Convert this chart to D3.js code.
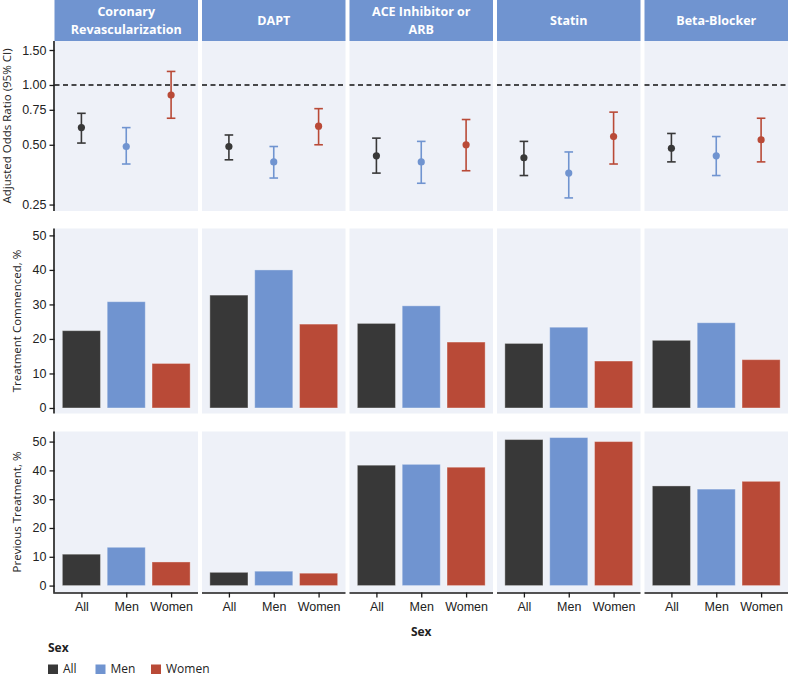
<!DOCTYPE html>
<html>
<head>
<meta charset="utf-8">
<script src="https://cdn.jsdelivr.net/npm/d3@7"></script>
<style>
  body { margin: 0; background: #fff; }
  svg { display: block; font-family: "Open Sans", "Noto Sans", sans-serif; }
</style>
</head>
<body>
<svg id="chart" width="792" height="676"></svg>
<script>
// ---------- data ----------
const treatments = ["Coronary\nRevascularization", "DAPT", "ACE Inhibitor or\nARB", "Statin", "Beta-Blocker"];
const sexes = ["All", "Men", "Women"];
const sexColors = ["#383838", "#7094D0", "#B94A37"];

// adjusted odds ratio (point, lower, upper) per treatment, order All/Men/Women
const orPoint = [[0.61, 0.49, 0.89], [0.49, 0.41, 0.62], [0.44, 0.41, 0.50], [0.43, 0.36, 0.55], [0.48, 0.44, 0.53]];
const orLower = [[0.51, 0.40, 0.68], [0.42, 0.34, 0.50], [0.36, 0.32, 0.37], [0.35, 0.27, 0.40], [0.41, 0.35, 0.41]];
const orUpper = [[0.72, 0.61, 1.17], [0.56, 0.49, 0.76], [0.54, 0.52, 0.67], [0.52, 0.46, 0.73], [0.57, 0.55, 0.68]];

const commenced = [[22.4, 30.8, 12.9], [32.7, 40.0, 24.3], [24.5, 29.6, 19.1], [18.7, 23.4, 13.6], [19.6, 24.7, 14.0]];
const previous  = [[10.9, 13.3, 8.2], [4.6, 5.0, 4.3], [41.8, 42.1, 41.1], [50.7, 51.4, 50.0], [34.6, 33.5, 36.2]];

const orTicks = [0.25, 0.50, 0.75, 1.00, 1.50];
const pctTicks = [0, 10, 20, 30, 40, 50];
const rowTitles = ["Adjusted Odds Ratio (95% CI)", "Treatment Commenced, %", "Previous Treatment, %"];

// ---------- layout ----------
const svg = d3.select("#chart");
const left = 54.5, right = 788, gap = 4;
const nP = treatments.length;
const pW = (right - left - gap * (nP - 1)) / nP;
const stripTop = 0, stripBot = 41;
const rows = [
  {top: 41, bot: 211},
  {top: 228.5, bot: 413.5},
  {top: 431.5, bot: 592.5}
];
const panelBg = "#EEF1F8";
const axisCol = "#1a1a1a";
const textCol = "#222";

const xs = d3.range(nP).map(i => d3.scalePoint().domain(sexes)
  .range([left + i * (pW + gap), left + i * (pW + gap) + pW]).padding(0.6));

const yOR = d3.scaleLog().domain([0.232, 1.665]).range([rows[0].bot, rows[0].top]);
const yC  = d3.scaleLinear().domain([-1.6, 52.0]).range([rows[1].bot, rows[1].top]);
const yP  = d3.scaleLinear().domain([-2.4, 53.5]).range([rows[2].bot, rows[2].top]);

// strips
treatments.forEach((t, i) => {
  const x0 = left + i * (pW + gap);
  svg.append("rect").attr("x", x0).attr("y", stripTop).attr("width", pW).attr("height", stripBot - stripTop)
    .attr("fill", "#7094D0");
  const lines = t.split("\n");
  const cy = (stripTop + stripBot) / 2;
  lines.forEach((l, k) => {
    svg.append("text").attr("x", x0 + pW / 2).attr("text-anchor", "middle")
      .attr("fill", "#fff").attr("font-weight", "bold").attr("font-size", 12.5)
      .attr("y", cy + (k - (lines.length - 1) / 2) * 17.2 + 4.5).text(l);
  });
});

// panel backgrounds
rows.forEach(r => {
  for (let i = 0; i < nP; i++) {
    const x0 = left + i * (pW + gap);
    svg.append("rect").attr("x", x0).attr("y", r.top).attr("width", pW).attr("height", r.bot - r.top)
      .attr("fill", panelBg);
  }
});

// row 1: odds ratios
for (let i = 0; i < nP; i++) {
  const x0 = left + i * (pW + gap);
  svg.append("line").attr("x1", x0).attr("x2", x0 + pW).attr("y1", yOR(1)).attr("y2", yOR(1))
    .attr("stroke", "#111").attr("stroke-width", 1.4).attr("stroke-dasharray", "5,3.5");
  const g = svg.append("g");
  sexes.forEach((s, j) => {
    const cx = xs[i](s), col = sexColors[j];
    const yu = yOR(orUpper[i][j]), yl = yOR(orLower[i][j]);
    g.append("line").attr("x1", cx).attr("x2", cx).attr("y1", yu).attr("y2", yl).attr("stroke", col).attr("stroke-width", 1.6);
    [yu, yl].forEach(yy => g.append("line").attr("x1", cx - 4.3).attr("x2", cx + 4.3).attr("y1", yy).attr("y2", yy)
      .attr("stroke", col).attr("stroke-width", 1.6));
    g.append("circle").attr("cx", cx).attr("cy", yOR(orPoint[i][j])).attr("r", 3.6).attr("fill", col);
  });
}

// rows 2 & 3: bars
function drawBars(data, y) {
  for (let i = 0; i < nP; i++) {
    const bw = xs[i].step() * 0.85;
    sexes.forEach((s, j) => {
      svg.append("rect").attr("x", xs[i](s) - bw / 2).attr("y", y(data[i][j]))
        .attr("width", bw).attr("height", y(0) - y(data[i][j]))
        .attr("fill", sexColors[j]).attr("stroke", "rgba(255,255,255,0.35)").attr("stroke-width", 1);
    });
  }
}
drawBars(commenced, yC);
drawBars(previous, yP);

// y axes
function yAxis(scale, ticks, fmt, r) {
  const g = svg.append("g").attr("transform", `translate(${left},0)`)
    .call(d3.axisLeft(scale).tickValues(ticks).tickFormat(fmt).tickSize(5).tickPadding(3));
  g.select(".domain").remove();
  g.selectAll(".tick line").attr("stroke", axisCol).attr("stroke-width", 1.3);
  g.selectAll(".tick text").attr("font-size", 12.5).attr("fill", textCol).attr("font-family", null);
  svg.append("line").attr("x1", left - 0.5).attr("x2", left - 0.5).attr("y1", r.top).attr("y2", r.bot)
    .attr("stroke", axisCol).attr("stroke-width", 1.6);
}
yAxis(yOR, orTicks, d3.format(".2f"), rows[0]);
yAxis(yC, pctTicks, d3.format("d"), rows[1]);
yAxis(yP, pctTicks, d3.format("d"), rows[2]);

// x axes (bottom row)
for (let i = 0; i < nP; i++) {
  const g = svg.append("g").attr("transform", `translate(0,${rows[2].bot})`)
    .call(d3.axisBottom(xs[i]).tickSize(5).tickPadding(5));
  g.select(".domain").remove();
  g.selectAll(".tick line").attr("stroke", axisCol).attr("stroke-width", 1.3);
  g.selectAll(".tick text").attr("font-size", 12.5).attr("fill", textCol).attr("font-family", null);
  const x0 = left + i * (pW + gap);
  svg.append("line").attr("x1", x0 - (i === 0 ? 1.3 : 0)).attr("x2", x0 + pW).attr("y1", rows[2].bot + 0.5).attr("y2", rows[2].bot + 0.5)
    .attr("stroke", axisCol).attr("stroke-width", 1.6);
}

// y titles
const titleX = [7, 17, 17];
rows.forEach((r, k) => {
  const cy = (r.top + r.bot) / 2;
  svg.append("text").attr("transform", `translate(${titleX[k] + 4},${cy}) rotate(-90)`)
    .attr("text-anchor", "middle").attr("font-size", 11.5).attr("fill", textCol).text(rowTitles[k]);
});

// x title
svg.append("text").attr("x", (left + right) / 2).attr("y", 636).attr("text-anchor", "middle")
  .attr("font-size", 12).attr("font-weight", "bold").attr("fill", textCol).text("Sex");

// legend
svg.append("text").attr("x", 48).attr("y", 652).attr("font-size", 12).attr("font-weight", "bold").attr("fill", textCol).text("Sex");
const legX = [48, 95.5, 151];
sexes.forEach((s, j) => {
  svg.append("rect").attr("x", legX[j]).attr("y", 664.5).attr("width", 10).attr("height", 9.5).attr("fill", sexColors[j]);
  svg.append("text").attr("x", legX[j] + 15).attr("y", 672.5).attr("font-size", 12).attr("fill", textCol).text(s);
});
</script>
</body>
</html>
